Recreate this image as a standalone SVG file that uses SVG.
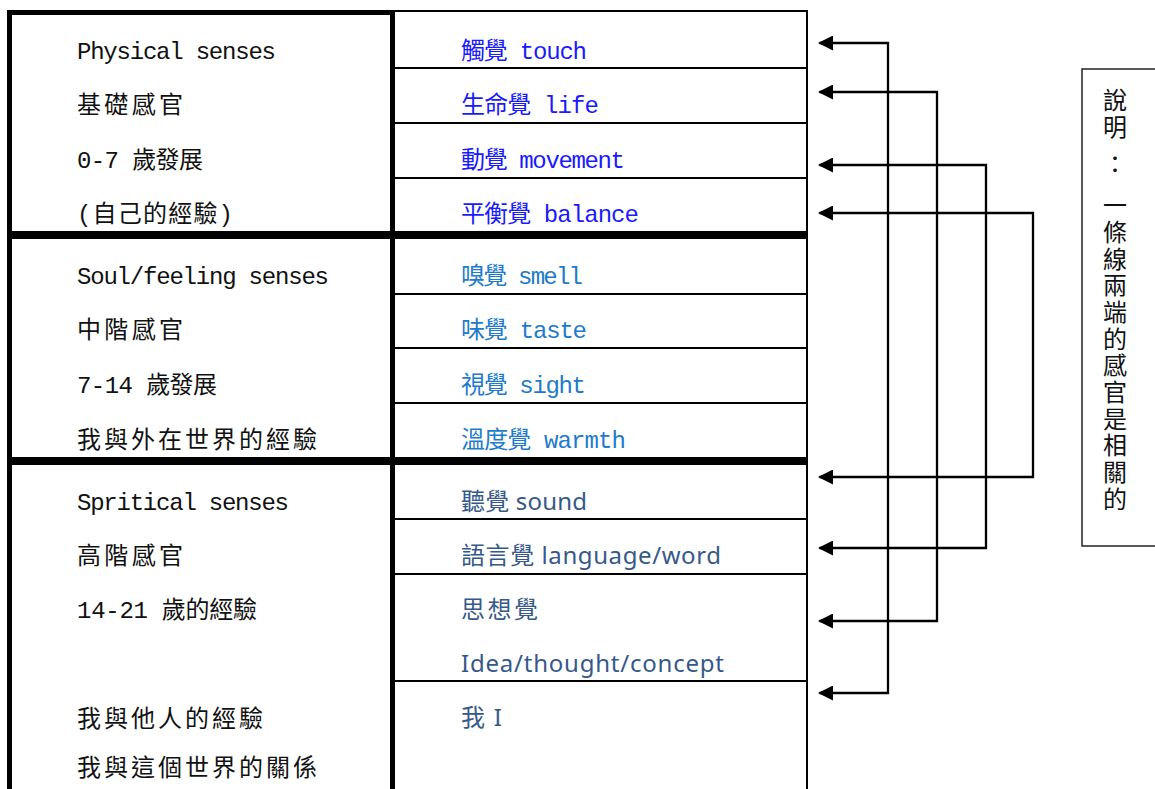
<svg xmlns="http://www.w3.org/2000/svg" width="1155" height="789" viewBox="0 0 1155 789">
<style>
text{font-size:24px;font-family:"Liberation Mono","Noto Sans CJK TC",monospace;}
.l{fill:#111;}
.a{fill:#1a1aff;}
.b{fill:#1e7bcb;}
.c{fill:#36598a;font-family:"Noto Sans","Noto Sans CJK TC",sans-serif;}
.v{font-family:"Noto Sans CJK TC",sans-serif;fill:#111;writing-mode:vertical-rl;letter-spacing:2.7px;}
.thick{fill:#000;}
.thin{stroke:#000;stroke-width:2;fill:none;}
.conn{stroke:#000;stroke-width:2.3;fill:none;marker-start:url(#ah);marker-end:url(#ah);}
</style>
<defs>
<marker id="ah" viewBox="0 0 10 10" refX="9" refY="5" markerWidth="15" markerHeight="15" markerUnits="userSpaceOnUse" orient="auto-start-reverse">
<path d="M0,0 L10,5 L0,10 z" fill="#000"/>
</marker>
</defs>
<rect width="1155" height="789" fill="#fff"/>
<g id="table-frame">
<rect class="thick" x="7" y="10" width="388" height="5"/>
<line class="thin" x1="392" y1="11" x2="808" y2="11"/>
<rect class="thick" x="7" y="10" width="5" height="779"/>
<rect class="thick" x="390" y="10" width="5" height="779"/>
<line class="thin" x1="807" y1="10" x2="807" y2="789"/>
<rect class="thick" x="7" y="231" width="801" height="8"/>
<rect class="thick" x="7" y="457" width="801" height="8"/>
<line class="thin" x1="395" y1="68" x2="808" y2="68"/>
<line class="thin" x1="395" y1="123" x2="808" y2="123"/>
<line class="thin" x1="395" y1="178" x2="808" y2="178"/>
<line class="thin" x1="395" y1="294" x2="808" y2="294"/>
<line class="thin" x1="395" y1="348" x2="808" y2="348"/>
<line class="thin" x1="395" y1="403" x2="808" y2="403"/>
<line class="thin" x1="395" y1="519" x2="808" y2="519"/>
<line class="thin" x1="395" y1="574" x2="808" y2="574"/>
<line class="thin" x1="395" y1="681" x2="808" y2="681"/>
</g>
<g id="group-physical">
<text class="l" x="77" y="59" textLength="199" lengthAdjust="spacing">Physical senses</text>
<text class="l" x="77" y="113" textLength="106" lengthAdjust="spacing">基礎感官</text>
<text class="l" x="77" y="168" textLength="126" lengthAdjust="spacing">0-7 歲發展</text>
<text class="l" x="77" y="222" textLength="156" lengthAdjust="spacing">(自己的經驗)</text>
</g>
<g id="group-soul">
<text class="l" x="77" y="284" textLength="252" lengthAdjust="spacing">Soul/feeling senses</text>
<text class="l" x="77" y="338" textLength="106" lengthAdjust="spacing">中階感官</text>
<text class="l" x="77" y="393" textLength="140" lengthAdjust="spacing">7-14 歲發展</text>
<text class="l" x="77" y="448" textLength="240" lengthAdjust="spacing">我與外在世界的經驗</text>
</g>
<g id="group-spiritual">
<text class="l" x="77" y="510" textLength="212" lengthAdjust="spacing">Spritical senses</text>
<text class="l" x="77" y="564" textLength="106" lengthAdjust="spacing">高階感官</text>
<text class="l" x="77" y="618" textLength="180" lengthAdjust="spacing">14-21 歲的經驗</text>
<text class="l" x="77" y="727" textLength="186" lengthAdjust="spacing">我與他人的經驗</text>
<text class="l" x="77" y="776" textLength="240" lengthAdjust="spacing">我與這個世界的關係</text>
</g>
<g id="sense-touch"><text class="a" x="461" y="59" textLength="126" lengthAdjust="spacing">觸覺 touch</text></g>
<g id="sense-life"><text class="a" x="461" y="113" textLength="138" lengthAdjust="spacing">生命覺 life</text></g>
<g id="sense-movement"><text class="a" x="461" y="168" textLength="164" lengthAdjust="spacing">動覺 movement</text></g>
<g id="sense-balance"><text class="a" x="461" y="222" textLength="178" lengthAdjust="spacing">平衡覺 balance</text></g>
<g id="sense-smell"><text class="b" x="461" y="284" textLength="122" lengthAdjust="spacing">嗅覺 smell</text></g>
<g id="sense-taste"><text class="b" x="461" y="338" textLength="126" lengthAdjust="spacing">味覺 taste</text></g>
<g id="sense-sight"><text class="b" x="461" y="393" textLength="125" lengthAdjust="spacing">視覺 sight</text></g>
<g id="sense-warmth"><text class="b" x="461" y="448" textLength="165" lengthAdjust="spacing">溫度覺 warmth</text></g>
<g id="sense-sound"><text class="c" x="461" y="510" textLength="126" lengthAdjust="spacing">聽覺 sound</text></g>
<g id="sense-language"><text class="c" x="461" y="564" textLength="260" lengthAdjust="spacing">語言覺 language/word</text></g>
<g id="sense-thought">
<text class="c" x="461" y="618" textLength="77" lengthAdjust="spacing">思想覺</text>
<text class="c" x="461" y="672" textLength="263" lengthAdjust="spacing">Idea/thought/concept</text>
</g>
<g id="sense-i"><text class="c" x="461" y="726" textLength="41" lengthAdjust="spacing">我 I</text></g>
<g id="connectors">
<path class="conn" d="M819.5 43 H888 V693 H819.5"/>
<path class="conn" d="M819.5 92 H937 V621 H819.5"/>
<path class="conn" d="M819.5 165 H986 V548 H819.5"/>
<path class="conn" d="M819.5 213 H1033 V477 H819.5"/>
</g>
<g id="legend">
<rect x="1082" y="69" width="90" height="477" fill="none" stroke="#222" stroke-width="1.5"/>
<text class="v" x="1115" y="88">說明</text>
<text class="v" x="1115" y="152">：</text>
<text class="v" x="1115" y="193">一條線兩端的感官是相關的</text>
</g>
</svg>
